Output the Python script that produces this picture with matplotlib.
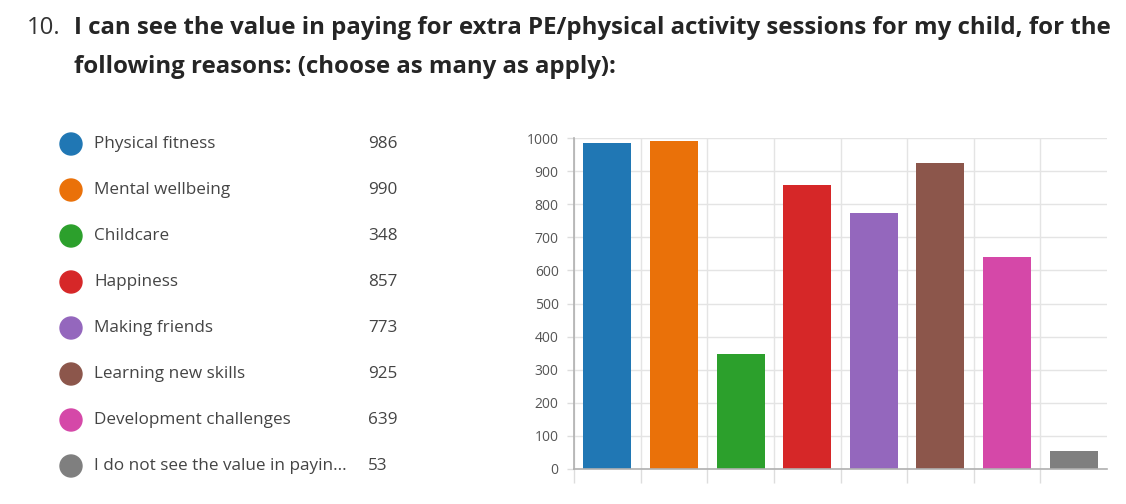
"""
Bar chart of reasons parents see value in paying for extra PE sessions.
"""

import matplotlib
matplotlib.use("Agg")
import matplotlib.pyplot as plt
from matplotlib.patches import Circle

categories = [
    "Physical fitness",
    "Mental wellbeing",
    "Childcare",
    "Happiness",
    "Making friends",
    "Learning new skills",
    "Development challenges",
    "I do not see the value in payin...",
]
counts = [986, 990, 348, 857, 773, 925, 639, 53]
colors = ["#2077b4", "#ea7109", "#2ca02c", "#d62728",
          "#9467bd", "#8c564b", "#d548a8", "#7f7f7f"]
y_ticks = [0, 100, 200, 300, 400, 500, 600, 700, 800, 900, 1000]

W, H = 1126, 504


def fx(px):
    return px / W


def fy(py):
    return 1 - py / H


def plot_chart():
    plt.rcParams["font.family"] = ["Open Sans", "DejaVu Sans"]
    fig = plt.figure(figsize=(W / 100, H / 100), dpi=100)

    # title
    fig.text(fx(27), fy(28), "10.", fontsize=17.3, color="#333333",
             va="center", ha="left")
    fig.text(fx(74), fy(28),
             "I can see the value in paying for extra PE/physical activity sessions for my child, for the",
             fontsize=17.3, fontweight="bold", color="#252525", va="center", ha="left")
    fig.text(fx(74), fy(67), "following reasons: (choose as many as apply):",
             fontsize=17.3, fontweight="bold", color="#252525", va="center", ha="left")

    # legend list (circles drawn in inch coords so they stay round)
    for i, (name, val, col) in enumerate(zip(categories, counts, colors)):
        yc = 144 + 46 * i
        dot = Circle((71 / 100, (H - yc) / 100), radius=0.11,
                     transform=fig.dpi_scale_trans, color=col)
        fig.patches.append(dot)
        fig.text(fx(94), fy(yc), name, fontsize=12.3, color="#444444",
                 va="center", ha="left")
        fig.text(fx(368), fy(yc), str(val), fontsize=12.3, color="#444444",
                 va="center", ha="left")

    # bar chart
    ax = fig.add_axes([fx(574), fy(469), (1107 - 574) / W, (469 - 138) / H])
    x = list(range(len(counts)))
    ax.bar(x, counts, width=0.72, color=colors, zorder=3)
    ax.set_xlim(-0.5, len(counts) - 0.5)
    ax.set_ylim(0, 1000)
    ax.set_yticks(y_ticks)
    ax.set_yticklabels([str(t) for t in y_ticks], fontsize=10, color="#555555")
    ax.set_xticks([i - 0.5 for i in range(len(counts))])
    ax.set_xticklabels([])
    ax.tick_params(axis="x", length=10, color="#dddddd", width=1)
    ax.tick_params(axis="y", length=5, color="#dddddd", width=1, pad=6)
    ax.grid(True, color="#e4e4e4", linewidth=1, zorder=0)
    for side in ["top", "right"]:
        ax.spines[side].set_visible(False)
    for side in ["left", "bottom"]:
        ax.spines[side].set_color("#b0b0b0")
        ax.spines[side].set_linewidth(1.2)
    ax.spines["bottom"].set_zorder(4)

    fig.savefig("out.png", dpi=100)


if __name__ == "__main__":
    plot_chart()
